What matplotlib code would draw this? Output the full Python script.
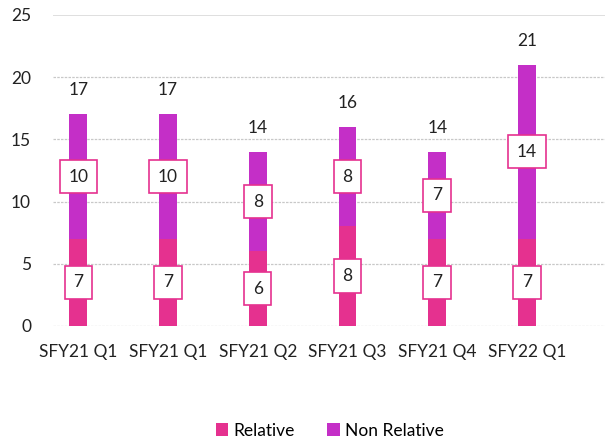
import numpy as np
import matplotlib.pyplot as plt

plt.rcParams['font.family'] = ['Lato', 'DejaVu Sans']

quarters = ["SFY21 Q1", "SFY21 Q1", "SFY21 Q2", "SFY21 Q3", "SFY21 Q4", "SFY22 Q1"]
relative = [7, 7, 6, 8, 7, 7]
non_relative = [10, 10, 8, 8, 7, 14]

c_rel = "#E5318F"
c_non = "#C42FC7"

fig = plt.figure(figsize=(6.05, 4.41), dpi=100)
ax = fig.add_axes([0.088, 0.261, 0.912, 0.705])

x = np.arange(len(quarters))
rel = np.array(relative)
non = np.array(non_relative)
tot = rel + non

ax.bar(x, rel, width=0.2, color=c_rel, label="Relative", zorder=3)
ax.bar(x, non, width=0.2, bottom=rel, color=c_non, label="Non Relative", zorder=3)

box = dict(boxstyle="square,pad=0.5", fc="white", ec=c_rel, lw=1.2)
for i in range(len(x)):
    ax.text(x[i], rel[i] / 2, str(rel[i]), ha="center", va="center",
            fontsize=12.5, color="#222222", bbox=box, zorder=4)
    ax.text(x[i], rel[i] + non[i] / 2, str(non[i]), ha="center", va="center",
            fontsize=12.5, color="#222222", bbox=box, zorder=4)
    ax.text(x[i], tot[i] + 1.3, str(tot[i]), ha="center", va="bottom",
            fontsize=12.5, color="#222222")

ax.set_xlim(-0.28, 5.87)
ax.set_ylim(0, 25)
ax.set_yticks(range(0, 26, 5))
ax.set_xticks(x)
ax.set_xticklabels(quarters)
ax.tick_params(length=0, labelsize=12.5, colors="#222222")
ax.tick_params(axis="x", pad=13)
ax.tick_params(axis="y", pad=16)
for s in ax.spines.values():
    s.set_visible(False)
for v in range(0, 21, 5):
    ax.axhline(v, color="#C8C8C8", lw=0.9, ls=(0, (2, 1)), zorder=1)
ax.axhline(25, color="#D9D9D9", lw=1.2, zorder=1)

fig.legend(loc="lower center", bbox_to_anchor=(0.545, -0.03), ncol=2, frameon=False,
           fontsize=12.5, handlelength=0.7, handleheight=0.7, columnspacing=1.9,
           handletextpad=0.3)

fig.savefig("out.png")
